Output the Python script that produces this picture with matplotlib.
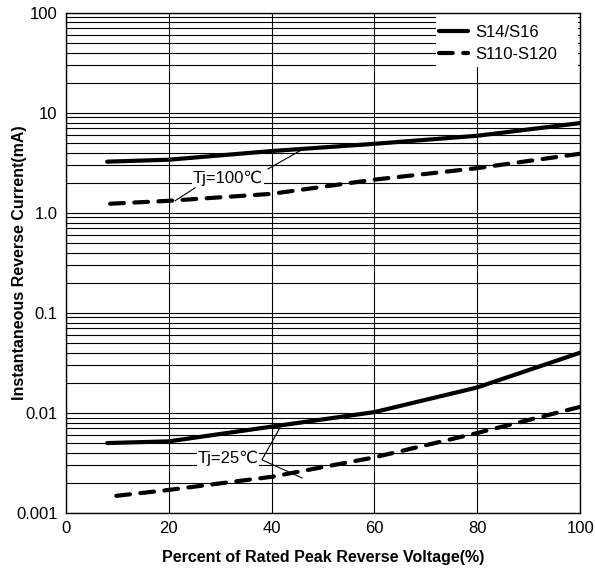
import numpy as np
import matplotlib
matplotlib.use("Agg")
from matplotlib import pyplot as plt
from matplotlib.patches import Rectangle
from matplotlib.ticker import FixedLocator, FixedFormatter, LogLocator, NullFormatter

plt.rcParams['font.family'] = ['Liberation Sans', 'DejaVu Sans']

# values
pct = [8, 20, 40, 60, 80, 100]
s14_100 = [3.25, 3.4, 4.15, 4.9, 5.9, 7.9]
s110_100 = [1.23, 1.32, 1.55, 2.15, 2.8, 3.9]
s14_25 = [0.0050, 0.0052, 0.0073, 0.0102, 0.018, 0.040]
s110_25 = [0.00145, 0.0017, 0.0023, 0.0036, 0.0063, 0.0115]

yticks = [0.001, 0.01, 0.1, 1, 10, 100]
ylabels = ["0.001", "0.01", "0.1", "1.0", "10", "100"]
xticks = [0, 20, 40, 60, 80, 100]

fig = plt.figure(figsize=(5.95, 5.71), dpi=100)
ax = fig.add_axes([0.111, 0.1016, 0.864, 0.876])

ax.set_yscale('log')
ax.set_xlim(0, 100)
ax.set_ylim(0.001, 100)

# grid
ax.yaxis.set_major_locator(FixedLocator(yticks))
ax.yaxis.set_major_formatter(FixedFormatter(ylabels))
ax.yaxis.set_minor_locator(LogLocator(base=10, subs=np.arange(2, 10)))
ax.yaxis.set_minor_formatter(NullFormatter())
ax.set_xticks(xticks)
ax.grid(True, which='both', axis='y', color='black', lw=0.8)
ax.grid(True, which='major', axis='x', color='black', lw=0.8)
ax.tick_params(which='both', length=0, labelsize=12, pad=6)
for s in ax.spines.values():
    s.set_linewidth(1.0)

lw = 3.0
dash = (3.3, 2.5)
ax.plot(pct, s14_100, color='black', lw=lw, solid_capstyle='round', label='S14/S16')
# dashed curves drawn from the right end so a dash sits at 100 %
ax.plot(pct[::-1], s110_100[::-1], color='black', lw=lw, dashes=dash, dash_capstyle='round', label='S110-S120')
ax.plot(pct, s14_25, color='black', lw=lw, solid_capstyle='round')
ax.plot(pct[::-1], s110_25[::-1], color='black', lw=lw, dashes=dash, dash_capstyle='round')

# annotations
ax.text(31.5, 2.2, "Tj=100\u2103", fontsize=12, ha='center', va='center',
        bbox=dict(facecolor='white', edgecolor='none', pad=0.5))
ax.plot([39.3, 45.5], [2.75, 4.17], color='black', lw=0.8)
ax.plot([25.1, 21.2], [1.78, 1.32], color='black', lw=0.8)

ax.text(31.5, 0.0035, "Tj=25\u2103", fontsize=12, ha='center', va='center',
        bbox=dict(facecolor='white', edgecolor='none', pad=0.5))
ax.plot([41.6, 38.1, 45.9], [0.0071, 0.0034, 0.00224], color='black', lw=0.8)

# white area behind the legend
ax.add_patch(Rectangle((0.72, 0.892), 0.276, 0.108, transform=ax.transAxes,
                       facecolor='white', edgecolor='none', zorder=2))
leg = ax.legend(loc='upper left', bbox_to_anchor=(0.726, 0.975), fontsize=12,
                frameon=False, handlelength=1.75, borderpad=0, borderaxespad=0,
                handletextpad=0.4, labelspacing=0.4)
leg.set_zorder(3)

ax.set_xlabel("Percent of Rated Peak Reverse Voltage(%)", fontsize=11.5, fontweight='bold', labelpad=10)
ax.set_ylabel("Instantaneous Reverse Current(mA)", fontsize=11.5, fontweight='bold')
ax.yaxis.set_label_coords(-0.076, 0.5)

fig.savefig("out.png", dpi=100)
